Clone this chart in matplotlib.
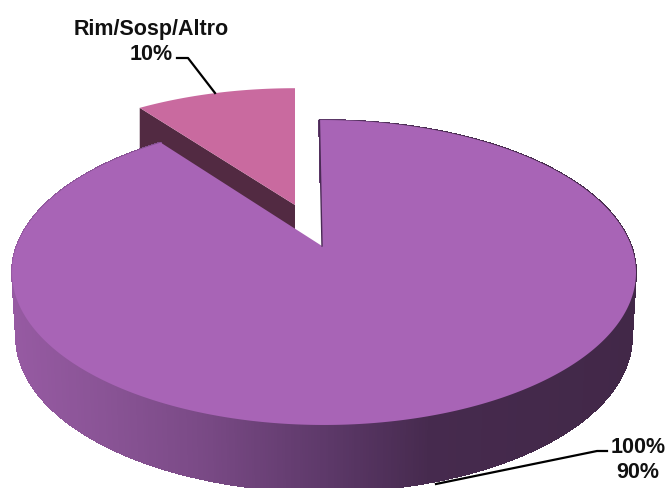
import numpy as np
import matplotlib
matplotlib.use("Agg")
import matplotlib.pyplot as plt
from matplotlib.collections import PolyCollection

labels = ["100%", "Rim/Sosp/Altro"]
values = [90, 10]

# perspective of the pie disc, in image pixels
K = 0.1673
A = 307.6
B = 148.2

# x positions and colours of the side wall shading
shade_x = [12, 100, 200, 330, 430, 636]
shade_r = [150, 138, 122, 92, 70, 66]
shade_g = [90, 84, 74, 56, 42, 40]
shade_b = [162, 150, 134, 104, 78, 72]


def project(theta, x0, y0, sx=1.0, sy=1.0):
    # theta in degrees, clockwise from the top of the pie
    t = np.radians(theta)
    u = np.sin(t)
    v = -np.cos(t)
    w = 1 - K * v
    return x0 + sx * A * u / w, y0 + sy * B * v / w


def wall_color(x):
    r = np.interp(x, shade_x, shade_r)
    g = np.interp(x, shade_x, shade_g)
    b = np.interp(x, shade_x, shade_b)
    return (r / 255, g / 255, b / 255)


fig = plt.figure(figsize=(6.68, 4.89), dpi=100)
ax = fig.add_axes([0, 0, 1, 1])
ax.set_xlim(0, 668)
ax.set_ylim(489, 0)
ax.axis("off")

total = sum(values)
main_sweep = 360 * values[0] / total
small_sweep = 360 * values[1] / total

# exploded small slice, behind the main one
small_start = 360 - small_sweep
cx, cy = project(small_start, 295, 206, 0.975, 0.92)
ax.fill([295, cx, cx, 295], [206, cy, cy + 60, 266], color="#522A42", lw=0)
th = np.linspace(small_start, 360, 60)
sx_, sy_ = project(th, 295, 206, 0.975, 0.92)
ax.fill(np.r_[295, sx_], np.r_[206, sy_], color="#C96A9F", lw=0)

# main slice: side wall as thin strips, then the top face
start = -1
th = np.linspace(start, start + main_sweep, 721)
tx, ty = project(th, 324, 248)
bx, by = project(th, 324, 312, 0.987, 1.016)
quads = []
colors = []
for i in range(len(th) - 1):
    quads.append([(tx[i], ty[i]), (tx[i + 1], ty[i + 1]), (bx[i + 1], by[i + 1]), (bx[i], by[i])])
    colors.append(wall_color((tx[i] + tx[i + 1]) / 2))
ax.add_collection(PolyCollection(quads, facecolors=colors, edgecolors=colors, linewidths=0.6,
                                 antialiaseds=False))

ax.fill(np.r_[322, tx], np.r_[247, ty], color="#A864B6", lw=0)
ax.plot([tx[0], 322], [ty[0], 247], color="#4A2A55", lw=1.0)

# labels and leader lines
font = dict(family="Liberation Sans", fontweight="bold", fontsize=15.5, color="#111111",
            ha="center", va="center", linespacing=1.2)
ax.text(151, 42, f"{labels[1]}\n{values[1]}%", **font)
ax.text(638, 460, f"{labels[0]}\n{values[0]}%", **font)
ax.plot([177, 188, 215], [59, 59, 94], color="black", lw=1.6)
ax.plot([436, 597, 607], [485, 452, 452], color="black", lw=1.6)

fig.savefig("out.png", dpi=100)
